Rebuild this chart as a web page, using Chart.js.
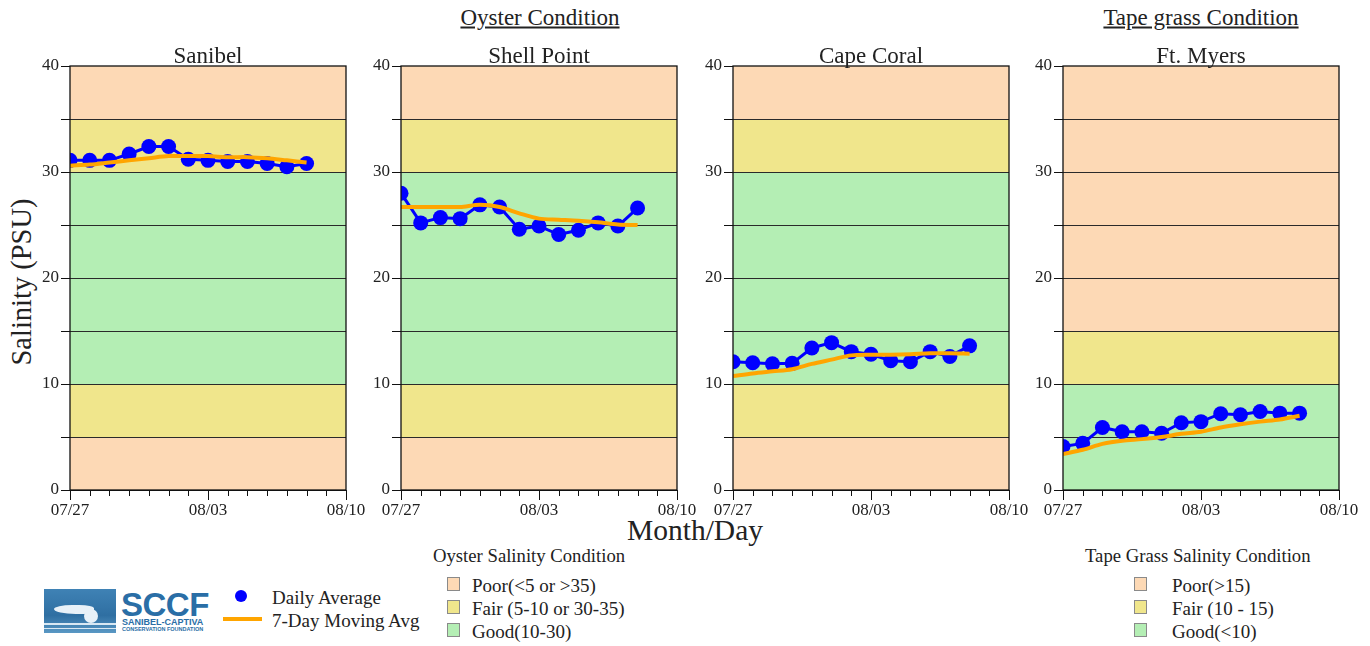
<!DOCTYPE html>
<html lang="en">
<head>
<meta charset="UTF-8" />
<title>Salinity Conditions</title>
<script src="https://cdn.jsdelivr.net/npm/chart.js"></script>
<style>
  body { margin: 0; background: #fff; width: 1370px; height: 646px; position: relative; overflow: hidden;
         font-family: "Liberation Serif", "DejaVu Serif", serif; color: #222; }
  canvas { position: absolute; }
  .txt { position: absolute; white-space: nowrap; transform: translate(-50%, -50%); line-height: 1; }
  .lg { position: absolute; white-space: nowrap; font-size: 19px; line-height: 1; }
  .hd { position: absolute; white-space: nowrap; font-size: 18.7px; line-height: 1; }
  .sq { position: absolute; width: 11px; height: 12px; border: 1px solid #8a8a8a; }
</style>
</head>
<body>

<div class="txt" style="left:540px; top:17px; font-size:23px; text-decoration:underline;">Oyster Condition</div>
<div class="txt" style="left:1201px; top:17px; font-size:23px; text-decoration:underline;">Tape grass Condition</div>
<div class="txt" style="left:22px; top:282px; font-size:28.5px; transform:translate(-50%,-50%) rotate(-90deg);">Salinity (PSU)</div>
<div class="txt" style="left:695px; top:531px; font-size:29.5px;">Month/Day</div>

<canvas id="c0"></canvas>
<canvas id="c1"></canvas>
<canvas id="c2"></canvas>
<canvas id="c3"></canvas>

<!-- logo -->
<div style="position:absolute; left:44px; top:589px; width:72px; height:44px; background:linear-gradient(180deg,#3f82b5 0%,#2f6fa2 60%,#5a98c4 100%); overflow:hidden;">
  <div style="position:absolute; left:10px; top:16px; width:40px; height:9px; background:#e8f1f8; border-radius:50% 40% 30% 60%;"></div>
  <div style="position:absolute; left:40px; top:20px; width:14px; height:14px; background:#e8f1f8; border-radius:50%;"></div>
  <div style="position:absolute; left:0; top:34px; width:72px; height:2px; background:#d9e8f3;"></div>
  <div style="position:absolute; left:0; top:39px; width:72px; height:1px; background:#d9e8f3;"></div>
</div>
<div style="position:absolute; left:121px; top:586px; font-family:'Liberation Sans',Arial,sans-serif; font-weight:bold; font-size:33px; color:#2a6ea6; letter-spacing:-0.5px;">SCCF</div>
<div style="position:absolute; left:122px; top:617px; font-family:'Liberation Sans',Arial,sans-serif; font-weight:bold; font-size:9px; color:#2a6ea6;">SANIBEL-CAPTIVA</div>
<div style="position:absolute; left:122px; top:626px; font-family:'Liberation Sans',Arial,sans-serif; font-weight:bold; font-size:5.5px; color:#2a6ea6;">CONSERVATION FOUNDATION</div>

<!-- series legend -->
<div style="position:absolute; left:235px; top:590px; width:12px; height:12px; border-radius:50%; background:#0000ff;"></div>
<div class="lg" style="left:272px; top:588px;">Daily Average</div>
<div style="position:absolute; left:223px; top:617px; width:39px; height:4px; background:#ffa500;"></div>
<div class="lg" style="left:272px; top:611px;">7-Day Moving Avg</div>

<!-- oyster legend -->
<div class="hd" style="left:433px; top:547px;">Oyster Salinity Condition</div>
<div class="sq" style="left:447px; top:577px; background:#fdd9b5;"></div>
<div class="lg" style="left:472px; top:576px;">Poor(&lt;5 or &gt;35)</div>
<div class="sq" style="left:447px; top:600px; background:#f0e68c;"></div>
<div class="lg" style="left:472px; top:599px;">Fair (5-10 or 30-35)</div>
<div class="sq" style="left:447px; top:623px; background:#b4eeb4;"></div>
<div class="lg" style="left:472px; top:622px;">Good(10-30)</div>

<!-- tape grass legend -->
<div class="hd" style="left:1085px; top:547px;">Tape Grass Salinity Condition</div>
<div class="sq" style="left:1134px; top:577px; background:#fdd9b5;"></div>
<div class="lg" style="left:1172px; top:576px;">Poor(&gt;15)</div>
<div class="sq" style="left:1134px; top:600px; background:#f0e68c;"></div>
<div class="lg" style="left:1172px; top:599px;">Fair (10 - 15)</div>
<div class="sq" style="left:1134px; top:623px; background:#b4eeb4;"></div>
<div class="lg" style="left:1172px; top:622px;">Good(&lt;10)</div>

<script>
// axis labels: one per day from 07/27 to 08/10
const dayLabels = ['07/27','07/28','07/29','07/30','07/31','08/01','08/02','08/03',
                   '08/04','08/05','08/06','08/07','08/08','08/09','08/10'];
const shownDays = ['07/27', '08/03', '08/10'];
const yTicksShown = [0, 10, 20, 30, 40];

const stations = ['Sanibel', 'Shell Point', 'Cape Coral', 'Ft. Myers'];

// daily averages, 07/27 .. 08/08
const sanibelDaily = [31.1, 31.1, 31.1, 31.7, 32.4, 32.4, 31.2, 31.1, 31.0, 31.0, 30.8, 30.5, 30.8];
const sanibelAvg   = [30.6, 30.7, 30.9, 31.1, 31.3, 31.5, 31.5, 31.5, 31.4, 31.4, 31.3, 31.1, 30.9];

const shellDaily = [28.0, 25.2, 25.7, 25.6, 26.9, 26.7, 24.6, 24.9, 24.1, 24.5, 25.2, 24.9, 26.6];
const shellAvg   = [26.7, 26.7, 26.7, 26.7, 26.9, 26.7, 26.1, 25.6, 25.5, 25.4, 25.25, 25.05, 25.0];

const capeDaily = [12.1, 12.0, 11.9, 11.95, 13.4, 13.9, 13.05, 12.8, 12.2, 12.1, 13.05, 12.6, 13.6];
const capeAvg   = [10.75, 11.0, 11.2, 11.4, 11.9, 12.3, 12.7, 12.75, 12.75, 12.8, 12.9, 12.9, 12.85];

const ftDaily = [4.1, 4.4, 5.9, 5.5, 5.5, 5.35, 6.35, 6.45, 7.2, 7.1, 7.4, 7.25, 7.25];
const ftAvg   = [3.4, 3.8, 4.35, 4.65, 4.8, 5.0, 5.3, 5.5, 5.9, 6.2, 6.45, 6.65, 7.0];

// condition bands [from, to, kind]
const oysterBands = [[0, 5, 'poor'], [5, 10, 'fair'], [10, 30, 'good'], [30, 35, 'fair'], [35, 40, 'poor']];
const tapeBands   = [[0, 10, 'good'], [10, 15, 'fair'], [15, 40, 'poor']];

const bandColors = { poor: '#fdd9b5', fair: '#f0e68c', good: '#b4eeb4' };

const dailySets = [sanibelDaily, shellDaily, capeDaily, ftDaily];
const avgSets = [sanibelAvg, shellAvg, capeAvg, ftAvg];
const bandSets = [oysterBands, oysterBands, oysterBands, tapeBands];
const plotLefts = [70, 401, 733, 1063];

const PLOT_W = 276, PLOT_TOP = 66, PLOT_BOTTOM = 490;
const AXIS_W = 45, PAD_TOP = 16, PAD_RIGHT = 25, XAXIS_H = 32;

const bandsPlugin = {
  id: 'bands',
  beforeDatasetsDraw(chart, args, opts) {
    const { ctx, chartArea: a, scales: { y } } = chart;
    ctx.save();
    opts.bands.forEach(b => {
      const top = y.getPixelForValue(b[1]);
      const bot = y.getPixelForValue(b[0]);
      ctx.fillStyle = bandColors[b[2]];
      ctx.fillRect(a.left, top, a.right - a.left, bot - top);
    });
    // grid lines on top of the bands
    ctx.strokeStyle = '#2a2a2a';
    ctx.lineWidth = 1;
    for (let v = 5; v < 40; v += 5) {
      const py = Math.round(y.getPixelForValue(v)) + 0.5;
      ctx.beginPath(); ctx.moveTo(a.left, py); ctx.lineTo(a.right, py); ctx.stroke();
    }
    ctx.restore();
  },
  afterDraw(chart) {
    const { ctx, chartArea: a, scales: { x } } = chart;
    ctx.save();
    ctx.strokeStyle = '#111';
    ctx.lineWidth = 1.3;
    ctx.strokeRect(a.left, a.top, a.right - a.left, a.bottom - a.top);
    // small day ticks below the x axis
    ctx.lineWidth = 1;
    for (let d = 0; d < dayLabels.length; d++) {
      const px = Math.round(x.getPixelForValue(d)) + 0.5;
      ctx.beginPath(); ctx.moveTo(px, a.bottom); ctx.lineTo(px, a.bottom + 6); ctx.stroke();
    }
    ctx.restore();
  }
};

for (let i = 0; i < stations.length; i++) {
  const cv = document.getElementById('c' + i);
  cv.width = AXIS_W + PLOT_W + PAD_RIGHT;
  cv.height = (PLOT_BOTTOM - PLOT_TOP) + PAD_TOP + XAXIS_H;
  cv.style.left = (plotLefts[i] - AXIS_W) + 'px';
  cv.style.top = (PLOT_TOP - PAD_TOP) + 'px';

  // station title
  const t = document.createElement('div');
  t.className = 'txt';
  t.style.left = (plotLefts[i] + PLOT_W / 2) + 'px';
  t.style.top = '55px';
  t.style.fontSize = '23px';
  t.textContent = stations[i];
  document.body.appendChild(t);

  new Chart(cv.getContext('2d'), {
    type: 'line',
    data: {
      datasets: [
        {
          label: '7-Day Moving Avg',
          data: avgSets[i].map((v, k) => ({ x: k, y: v })),
          borderColor: '#ffa500',
          borderWidth: 4,
          pointRadius: 0,
          tension: 0.3,
          order: 0
        },
        {
          label: 'Daily Average',
          data: dailySets[i].map((v, k) => ({ x: k, y: v })),
          borderColor: '#0000ff',
          backgroundColor: '#0000ff',
          borderWidth: 3,
          pointRadius: 7.5,
          pointBorderWidth: 0,
          tension: 0,
          order: 1
        }
      ]
    },
    options: {
      responsive: false,
      animation: false,
      layout: { padding: { top: PAD_TOP, right: PAD_RIGHT, left: 0, bottom: 0 } },
      plugins: {
        legend: { display: false },
        tooltip: { enabled: false },
        bands: { bands: bandSets[i] }
      },
      scales: {
        x: {
          type: 'linear',
          min: 0,
          max: dayLabels.length - 1,
          afterFit: s => { s.height = XAXIS_H; },
          afterBuildTicks: s => {
            s.ticks = dayLabels.map((d, k) => ({ value: k }))
              .filter(tk => shownDays.includes(dayLabels[tk.value]));
          },
          ticks: {
            autoSkip: false,
            maxRotation: 0,
            padding: 0,
            color: '#222',
            font: { family: 'Liberation Serif', size: 17 },
            callback: v => dayLabels[v]
          },
          grid: { drawOnChartArea: false, tickLength: 10, color: '#111' },
          border: { display: true, color: '#111' }
        },
        y: {
          min: 0,
          max: 40,
          afterFit: s => { s.width = AXIS_W; },
          ticks: {
            stepSize: 5,
            padding: 2,
            color: '#222',
            font: { family: 'Liberation Serif', size: 17 },
            callback: v => yTicksShown.includes(v) ? String(v) : ''
          },
          grid: { drawOnChartArea: false, tickLength: 9, color: '#111' },
          border: { display: true, color: '#111' }
        }
      }
    },
    plugins: [bandsPlugin]
  });
}
</script>
</body>
</html>
